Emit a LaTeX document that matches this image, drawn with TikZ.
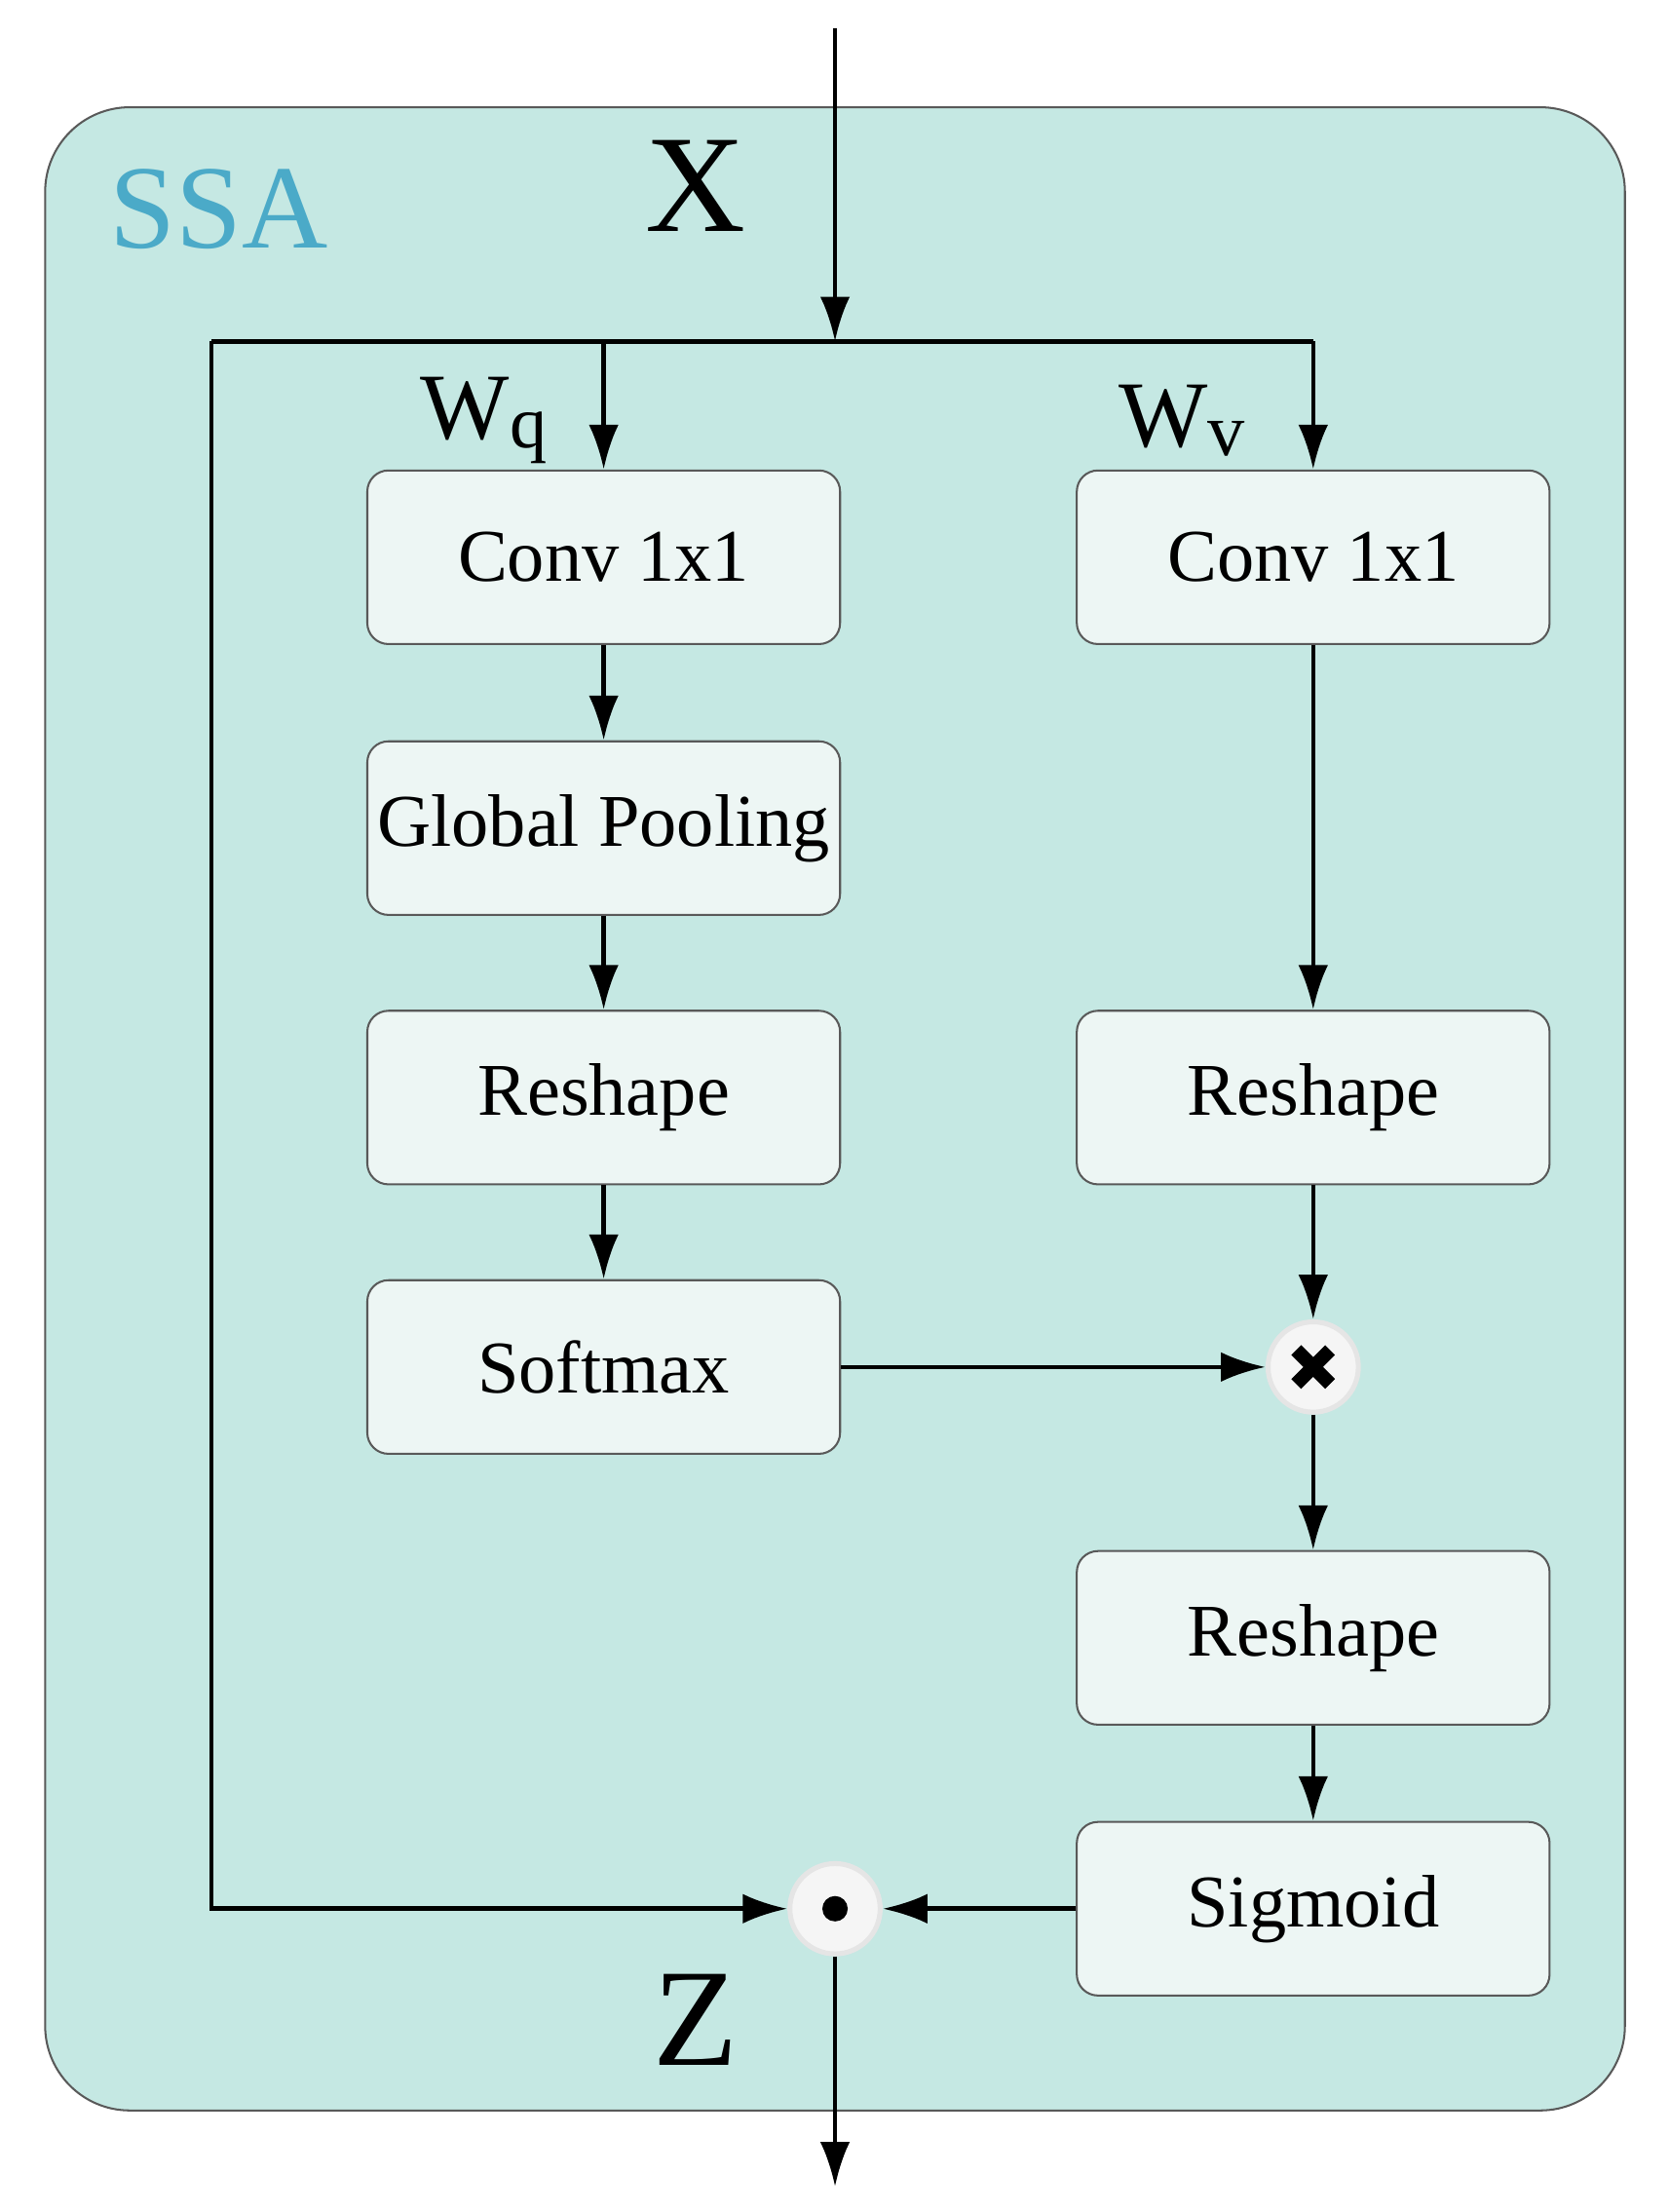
\documentclass[tikz,border=0pt]{standalone}
\usepackage{fontspec}
\setmainfont{Liberation Serif}
\usetikzlibrary{arrows.meta}
\definecolor{bgc}{HTML}{C5E8E3}
\definecolor{boxc}{HTML}{EDF6F4}
\definecolor{ssac}{HTML}{4BAAC8}
\begin{document}
\begin{tikzpicture}[x=0.01cm,y=-0.01cm,
  box/.style={draw=gray!70!black,fill=boxc,rounded corners=0.15cm,minimum width=3.35cm,minimum height=1.23cm,inner xsep=2pt,font=\fontsize{15}{18}\selectfont},
  op/.style={circle,fill=gray!8,draw=gray!20,line width=1pt,minimum size=0.64cm,inner sep=0pt},
  arr/.style={-{Latex[length=9pt,width=6pt]},line width=0.9pt},
  ln/.style={line width=0.9pt}]
\useasboundingbox (0,0) rectangle (1183,1568);
\draw[fill=bgc,draw=gray!70!black,rounded corners=0.6cm] (32,76) rectangle (1152,1496);
\node[text=ssac,font=\fontsize{24}{28}\selectfont] (ssa) at (155,148) {SSA};
\node[font=\fontsize{28}{32}\selectfont] (xl) at (493,132) {X};
\node[font=\fontsize{28}{32}\selectfont] (zl) at (493,1432) {Z};
\node[font=\fontsize{19}{22}\selectfont] (wq) at (343,298) {W\raisebox{-0.2ex}{\fontsize{15}{16}\selectfont q}};
\node[font=\fontsize{19}{22}\selectfont] (wv) at (838,298) {W\raisebox{-0.2ex}{\fontsize{15}{16}\selectfont v}};
% left column
\node[box] (c1) at (428,395) {Conv 1x1};
\node[box] (gp) at (428,587) {Global Pooling};
\node[box] (r1) at (428,778) {Reshape};
\node[box] (sm) at (428,969) {Softmax};
% right column
\node[box] (c2) at (931,395) {Conv 1x1};
\node[box] (r2) at (931,778) {Reshape};
\node[box] (r3) at (931,1161) {Reshape};
\node[box] (sg) at (931,1353) {Sigmoid};
\node[op] (mul) at (931,969) {};
\draw[line width=2.8pt] ([shift={(-12,-12)}]mul.center) -- ([shift={(12,12)}]mul.center)
  ([shift={(-12,12)}]mul.center) -- ([shift={(12,-12)}]mul.center);
\node[op] (dot) at (592,1353) {};
\fill (dot.center) circle (0.09cm);
% coordinates
\coordinate (in) at (592,20);
\coordinate (sp) at (592,242);
\coordinate (lc) at (150,242);
\coordinate (ql) at (428,242);
\coordinate (vl) at (931,242);
\coordinate (bl) at (150,1353);
\coordinate (out) at (592,1550);
% connectors
\draw[arr] (in) -- (sp);
\draw[ln] (lc) -- (vl);
\draw[arr] (ql) -- (c1.north);
\draw[arr] (vl) -- (c2.north);
\draw[arr] (c1) -- (gp);
\draw[arr] (gp) -- (r1);
\draw[arr] (r1) -- (sm);
\draw[arr] (c2) -- (r2);
\draw[arr] (r2) -- (mul);
\draw[arr] (sm) -- (mul);
\draw[arr] (mul) -- (r3);
\draw[arr] (r3) -- (sg);
\draw[arr] (sg) -- (dot);
\draw[arr] (lc) -- (bl) -- (dot);
\draw[arr] (dot) -- (out);
\end{tikzpicture}
\end{document}
